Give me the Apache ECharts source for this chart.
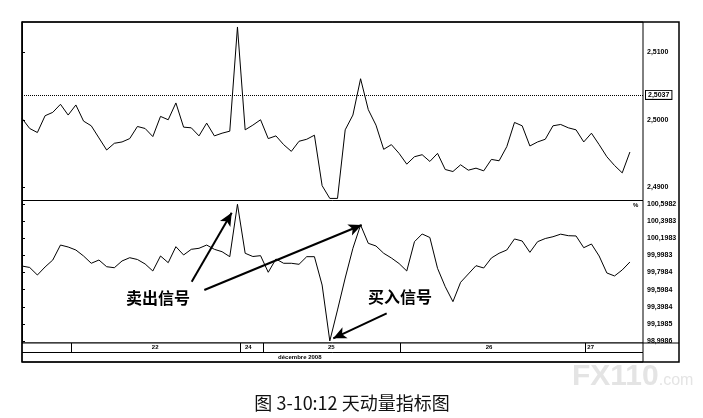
<!DOCTYPE html>
<html><head><meta charset="utf-8">
<script src="https://cdn.jsdelivr.net/npm/echarts@6/dist/echarts.min.js"></script>
<style>html,body{margin:0;padding:0;background:#fff}#c{width:703px;height:418px}</style>
</head><body><div id="c"></div>
<script>
// ---- data ----
const priceValues = [2.5002, 2.4987, 2.4981, 2.5006, 2.5011, 2.5023, 2.5007, 2.5022, 2.4998, 2.4991,
 2.4973, 2.4955, 2.4965, 2.4967, 2.4972, 2.4990, 2.4987, 2.4975, 2.5005, 2.5000,
 2.5025, 2.4989, 2.4988, 2.4976, 2.4995, 2.4976, 2.4980, 2.4983, 2.5138, 2.4985,
 2.4992, 2.5000, 2.4972, 2.4976, 2.4963, 2.4953, 2.4968, 2.4971, 2.4977, 2.4902,
 2.4883, 2.4883, 2.4985, 2.5007, 2.5061, 2.5015, 2.4992, 2.4956, 2.4963, 2.4950,
 2.4934, 2.4945, 2.4948, 2.4938, 2.4950, 2.4926, 2.4923, 2.4933, 2.4925, 2.4928,
 2.4924, 2.4941, 2.4939, 2.4960, 2.4996, 2.4991, 2.4961, 2.4967, 2.4971, 2.4991,
 2.4993, 2.4988, 2.4985, 2.4967, 2.4980, 2.4963, 2.4945, 2.4932, 2.4921, 2.4952];
const momentumValues = [99.874, 99.857, 99.769, 99.863, 99.944, 100.119, 100.096, 100.061, 99.991, 99.906,
 99.944, 99.866, 99.854, 99.933, 99.971, 99.950, 99.898, 99.816, 99.991, 99.913,
 100.100, 100.003, 100.069, 100.081, 100.119, 100.069, 100.041, 99.983, 100.595, 100.023,
 99.985, 99.995, 99.801, 99.956, 99.906, 99.906, 99.894, 99.983, 99.983, 99.652,
 98.999, 99.361, 99.734, 100.081, 100.353, 100.139, 100.108, 100.023, 99.968, 99.903,
 99.816, 100.158, 100.248, 100.207, 99.847, 99.633, 99.458, 99.684, 99.781, 99.878,
 99.851, 99.968, 100.023, 100.061, 100.190, 100.166, 100.034, 100.158, 100.195, 100.216,
 100.246, 100.228, 100.225, 100.088, 100.131, 99.991, 99.793, 99.758, 99.828, 99.921];
const priceTicks = [2.49, 2.50, 2.51];
const priceRef = 2.5037;
const momentumTicks = [98.9986, 99.1985, 99.3984, 99.5984, 99.7984, 99.9983, 100.1983, 100.3983, 100.5982];
const dayLabels = ['22', '24', '25', '26', '27'];
const dayLabelPos = [17.3, 29.4, 40.2, 60.7, 73.9];
const dayBounds = [6.4, 28.3, 31.4, 49.2, 73.2];
const monthLabel = 'décembre 2008';
const monthLabelPos = [36.1];
const sellText = '卖出信号';
const buyText = '买入信号';
const sellArrows = [[[22.05, 99.691], [27.25, 100.4966]], [[23.69, 99.594], [44.14, 100.353]]];
const buyArrows = [[[47.39, 99.322], [40.45, 99.030]]];
const caption = '图 3-10:12 天动量指标图';

// ---- chart ----
const fmt = v => Number(v).toFixed(4).replace('.', ',');
const nearestIdx = (arr, v) => { let b = 0; arr.forEach((a, i) => { if (Math.abs(a - v) < Math.abs(arr[b] - v)) b = i; }); return b; };
const X_MAX = 80.7;
const L = 22, R = 60;
const gridBase = { left: L, right: R, show: true, borderColor: '#000', borderWidth: 1, backgroundColor: '#fff' };
const hiddenX = { type: 'value', min: 0, max: X_MAX, show: false };
const axisFont = { fontSize: 7, fontWeight: 'bold', color: '#000', fontFamily: 'Liberation Sans, Arial, sans-serif' };

const chart = echarts.init(document.getElementById('c'), null, { renderer: 'canvas' });
const arrowItems = sellArrows.concat(buyArrows).map(a => [
  { coord: a[0], symbol: 'none' },
  { coord: a[1], symbol: 'arrow' }
]);

chart.setOption({
  animation: false,
  backgroundColor: '#fff',
  grid: [
    Object.assign({ top: 22, height: 178.5 }, gridBase),
    Object.assign({ top: 200.5, height: 142.5 }, gridBase),
    Object.assign({ top: 343, height: 9.5 }, gridBase),
    Object.assign({ top: 352.5, height: 9.5 }, gridBase)
  ],
  xAxis: [
    Object.assign({ gridIndex: 0 }, hiddenX),
    Object.assign({ gridIndex: 1 }, hiddenX),
    {
      gridIndex: 2, type: 'value', min: 0, max: X_MAX, position: 'bottom',
      axisLine: { show: false }, splitLine: { show: false },
      axisTick: { show: true, inside: true, length: 9.5, customValues: dayBounds, lineStyle: { color: '#000', width: 1 } },
      axisLabel: { inside: true, margin: 2, customValues: dayLabelPos, fontSize: 6, fontWeight: 'bold', color: '#000',
        formatter: v => dayLabels[nearestIdx(dayLabelPos, v)] }
    },
    {
      gridIndex: 3, type: 'value', min: 0, max: X_MAX, position: 'bottom',
      axisLine: { show: false }, splitLine: { show: false }, axisTick: { show: false },
      axisLabel: { inside: true, margin: 2, customValues: monthLabelPos, fontSize: 6, fontWeight: 'bold', color: '#000',
        formatter: () => monthLabel }
    }
  ],
  yAxis: [
    {
      gridIndex: 0, type: 'value', position: 'right', min: 2.48799, max: 2.51454,
      axisLine: { show: true, lineStyle: { color: '#000', width: 1 } },
      splitLine: { show: false },
      axisTick: { show: true, length: 3, customValues: priceTicks, lineStyle: { color: '#000' } },
      axisLabel: Object.assign({ customValues: priceTicks, margin: 4, formatter: fmt }, axisFont)
    },
    {
      gridIndex: 1, type: 'value', position: 'right', min: 98.9752, max: 100.6390,
      axisLine: { show: true, lineStyle: { color: '#000', width: 1 } },
      splitLine: { show: false },
      axisTick: { show: true, length: 3, customValues: momentumTicks, lineStyle: { color: '#000' } },
      axisLabel: Object.assign({ customValues: momentumTicks, margin: 4, formatter: fmt }, axisFont)
    },
    { gridIndex: 2, type: 'value', show: false },
    { gridIndex: 3, type: 'value', show: false }
  ],
  series: [
    {
      type: 'line', xAxisIndex: 0, yAxisIndex: 0, symbol: 'none', silent: true,
      data: priceValues.map((v, i) => [i, v]),
      lineStyle: { color: '#000', width: 1 },
      markLine: {
        silent: true, symbol: 'none', animation: false, precision: 4,
        lineStyle: { color: '#000', type: 'dotted', width: 1 },
        label: { show: true, position: 'end', distance: 3, formatter: fmt(priceRef),
          color: '#000', fontSize: 7, fontWeight: 'bold', fontFamily: 'Liberation Sans, Arial, sans-serif',
          borderColor: '#000', borderWidth: 1, padding: [1, 2, 0, 2], backgroundColor: '#fff' },
        data: [{ yAxis: priceRef }]
      }
    },
    {
      type: 'line', xAxisIndex: 1, yAxisIndex: 1, symbol: 'none', silent: true,
      data: momentumValues.map((v, i) => [i, v]),
      lineStyle: { color: '#000', width: 1 },
      markLine: {
        silent: true, animation: false, symbolSize: [9, 13], precision: 4,
        lineStyle: { color: '#000', type: 'solid', width: 2 },
        label: { show: false },
        emphasis: { disabled: true },
        data: arrowItems
      }
    }
  ],
  graphic: [
    { type: 'rect', shape: { x: 22, y: 22, width: 657, height: 340 }, style: { fill: 'none', stroke: '#000', lineWidth: 1.5 }, silent: true, z: 100 },
    { type: 'line', shape: { x1: 643, y1: 343, x2: 679, y2: 343 }, style: { stroke: '#000', lineWidth: 1 }, silent: true, z: 100 },
    { type: 'text', left: 633, top: 202, style: { text: '%', fontSize: 6, fontWeight: 'bold', fill: '#000' }, z: 100 },
    { type: 'text', x: 158, y: 298, style: { text: sellText, fontSize: 16, fontWeight: 'bold', fill: '#000', align: 'center', verticalAlign: 'middle', fontFamily: 'Noto Sans CJK SC' }, z: 100 },
    { type: 'text', x: 400, y: 297, style: { text: buyText, fontSize: 16, fontWeight: 'bold', fill: '#000', align: 'center', verticalAlign: 'middle', fontFamily: 'Noto Sans CJK SC' }, z: 100 },
    { type: 'text', x: 352, y: 403, style: { text: caption, fontSize: 18, fill: '#111', align: 'center', verticalAlign: 'middle', fontFamily: 'Noto Sans CJK SC' }, z: 100 },
    { type: 'text', x: 572, y: 377, style: { text: '{a|FX110}{b|.com}', verticalAlign: 'middle',
        rich: { a: { fontSize: 30, fontWeight: 'bold', fill: '#e4e4e4', fontFamily: 'Liberation Sans' },
                b: { fontSize: 16, fill: '#e4e4e4', fontFamily: 'Liberation Sans', padding: [8, 0, 0, 0] } } }, z: 1 }
  ]
});
</script>
</body></html>
